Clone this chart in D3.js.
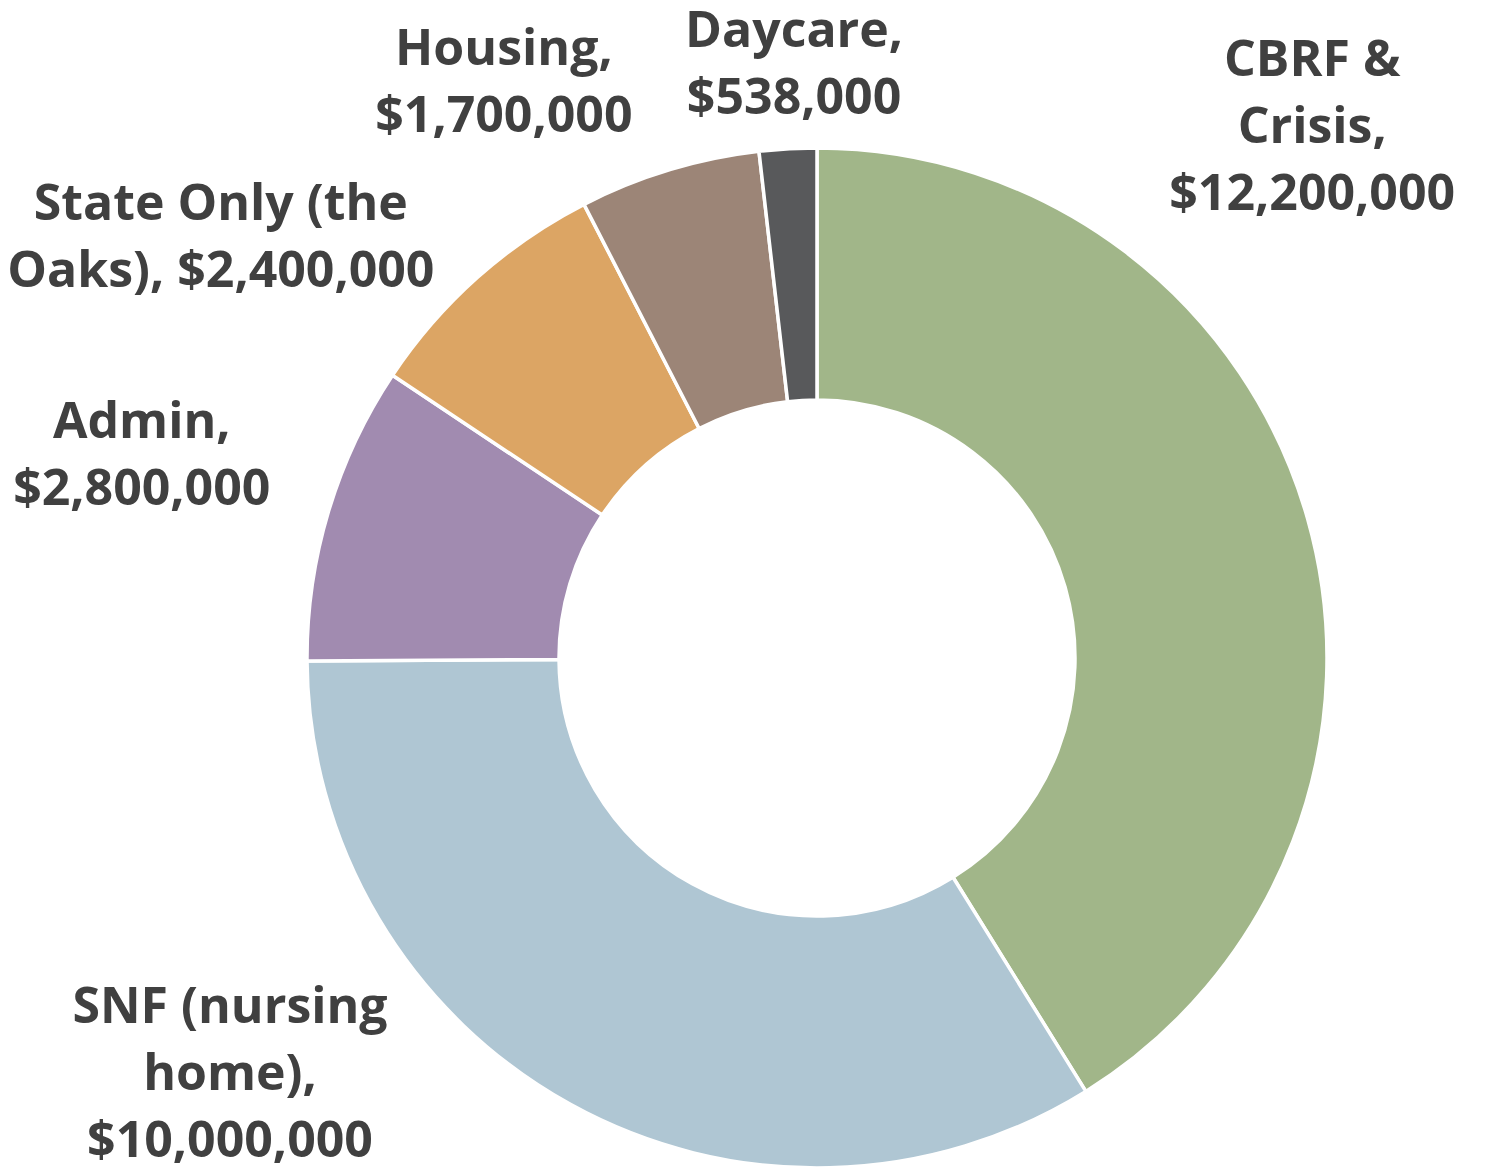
<!DOCTYPE html>
<html>
<head>
<meta charset="utf-8">
<script src="https://cdn.jsdelivr.net/npm/d3@7"></script>
<style>
  body { margin: 0; background: #fff; }
  .lbl { font-family: "Open Sans", sans-serif; font-weight: 700; fill: #404040; }
</style>
</head>
<body>
<div id="chart"></div>
<script>
// budget categories, clockwise from 12 o'clock
const categories = ["CBRF & Crisis", "SNF (nursing home)", "Admin", "State Only (the Oaks)", "Housing", "Daycare"]
const values = [12200000, 10000000, 2800000, 2400000, 1700000, 538000]
const colors = ["#A1B689", "#AFC6D3", "#A18BB0", "#DCA564", "#9C8577", "#58595B"]
// label text, broken into lines like the original
const labelLines = [
  ["CBRF &", "Crisis,", "$12,200,000"],
  ["SNF (nursing", "home),", "$10,000,000"],
  ["Admin,", "$2,800,000"],
  ["State Only (the", "Oaks), $2,400,000"],
  ["Housing,", "$1,700,000"],
  ["Daycare,", "$538,000"]
]

const width = 1486, height = 1170
const cx = 817, cy = 658
const outerR = 510, innerR = 258
const lineH = 67

// where each label block sits (first baseline), in units of the outer radius from the centre
const labelOffset = [
  [0.971, -1.141],
  [-1.151, 0.716],
  [-1.324, -0.431],
  [-1.169, -0.859],
  [-0.614, -1.163],
  [-0.045, -1.198]
]

const svg = d3.select("#chart").append("svg")
  .attr("width", width)
  .attr("height", height)

const g = svg.append("g").attr("transform", `translate(${cx},${cy})`)

const data = categories.map((c, i) => ({ name: c, value: values[i], idx: i }))

const pie = d3.pie().value(d => d.value).sort(null)
const arc = d3.arc().innerRadius(innerR).outerRadius(outerR)

g.selectAll(".slice")
  .data(pie(data))
  .enter().append("path")
  .attr("class", "slice")
  .attr("d", arc)
  .attr("fill", d => colors[d.data.idx])
  .attr("stroke", "#fff")
  .attr("stroke-width", 3.5)
  .attr("stroke-linejoin", "round")

//data labels
const lbl = g.selectAll(".lbl")
  .data(data)
  .enter().append("text")
  .attr("class", "lbl")
  .attr("text-anchor", "middle")
  .style("font-size", "50px")

lbl.each(function (d) {
  const [ox, oy] = labelOffset[d.idx]
  const t = d3.select(this)
  labelLines[d.idx].forEach((line, k) => {
    t.append("tspan")
      .attr("x", ox * outerR)
      .attr("y", oy * outerR + k * lineH)
      .text(line)
  })
})
</script>
</body>
</html>
